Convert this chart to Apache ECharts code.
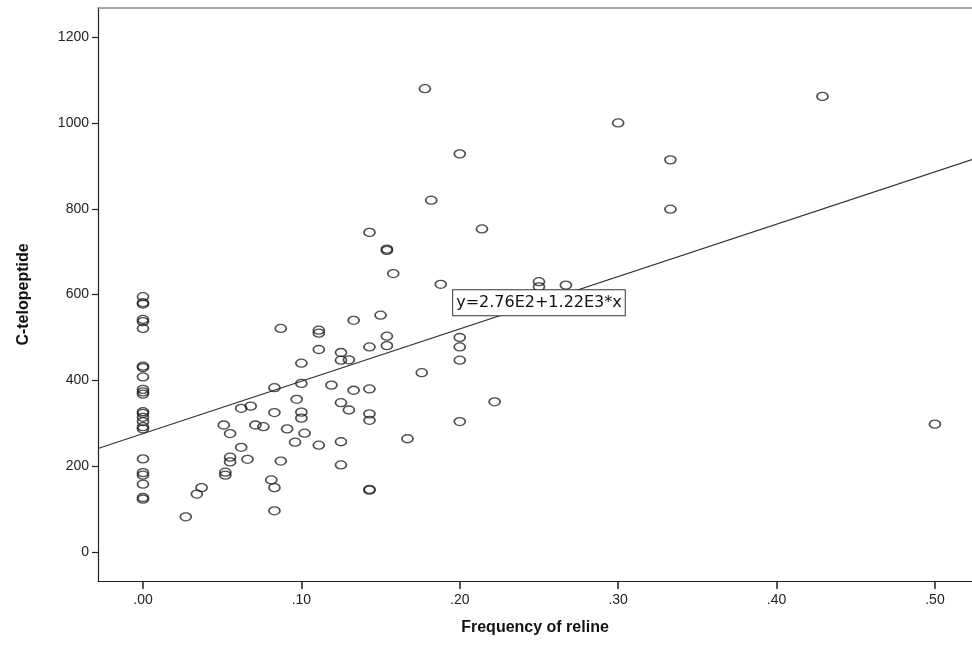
<!DOCTYPE html>
<html>
<head>
<meta charset="utf-8">
<script src="https://cdn.jsdelivr.net/npm/echarts@6/dist/echarts.min.js"></script>
<style>
    html, body { margin: 0; padding: 0; background: #fff; }
    #chart { width: 972px; height: 649px; }
</style>
</head>
<body>
<div id="chart"></div>
<script>
// frequency of reline (x)
var relineFreq = [
    0, 0, 0, 0, 0, 0, 0, 0, 0, 0, 0, 0, 0, 0, 0, 0, 0, 0, 0, 0, 0, 0, 0, 0,
    0.027, 0.034, 0.037, 0.051, 0.055, 0.062, 0.068, 0.062, 0.055, 0.055, 0.066, 0.052, 0.052,
    0.071, 0.076, 0.083, 0.087, 0.083, 0.091, 0.087, 0.081, 0.083, 0.083,
    0.096, 0.097, 0.100, 0.100, 0.100, 0.100, 0.102,
    0.111, 0.111, 0.111, 0.111, 0.119, 0.125, 0.125, 0.130, 0.133, 0.133, 0.125, 0.130, 0.125, 0.125,
    0.143, 0.143, 0.143, 0.143, 0.143, 0.143, 0.143,
    0.150, 0.154, 0.154, 0.154, 0.154, 0.158, 0.167, 0.176, 0.178, 0.182, 0.188,
    0.200, 0.200, 0.200, 0.200, 0.200, 0.214, 0.222,
    0.250, 0.250, 0.267, 0.300, 0.333, 0.333, 0.429, 0.500
];
// C-telopeptide (y)
var cTelopeptide = [
    595, 581, 578, 542, 537, 521, 433, 430, 408, 379, 373, 368, 327, 323, 314, 304, 292, 287, 217, 185, 179, 158, 127, 123,
    82, 135, 150, 296, 276, 335, 340, 244, 221, 210, 216, 186, 179,
    296, 292, 383, 521, 325, 287, 212, 168, 150, 96,
    256, 356, 440, 393, 326, 312, 277,
    517, 510, 472, 249, 389, 465, 447, 448, 540, 377, 348, 331, 257, 203,
    745, 478, 380, 322, 307, 146, 144,
    552, 706, 703, 503, 481, 649, 264, 418, 1080, 820, 624,
    928, 500, 478, 447, 304, 753, 350,
    630, 618, 622, 1000, 914, 799, 1062, 298
];

// fit line y = a + b*x
var fitIntercept = 276;
var fitSlope = 1220;
var fitLabel = 'y=2.76E2+1.22E3*x';

var xTicks = [0, 0.1, 0.2, 0.3, 0.4, 0.5];
var yTicks = [0, 200, 400, 600, 800, 1000, 1200];

var xMin = -0.0284, xMax = 0.5234;
var yMin = -67.6, yMax = 1268;

var points = [];
for (var i = 0; i < relineFreq.length; i++) {
    points.push([relineFreq[i], cTelopeptide[i]]);
}
var fitLine = [
    [xMin, fitIntercept + fitSlope * xMin],
    [xMax, fitIntercept + fitSlope * xMax]
];
var labelX = 0.25;

var ring = 'path://M0,5a5,5 0 1,0 10,0a5,5 0 1,0 -10,0z';
var font = '"Liberation Sans", Arial, sans-serif';

var myChart = echarts.init(document.getElementById('chart'));
var option = {
    backgroundColor: '#fff',
    animation: false,
    grid: { left: 98, right: 0, top: 8, bottom: 68 },
    xAxis: [{
        type: 'value',
        min: xMin,
        max: xMax,
        name: 'Frequency of reline',
        nameLocation: 'middle',
        nameGap: 39,
        nameTextStyle: { fontFamily: font, fontSize: 16, fontWeight: 'bold', color: '#111' },
        splitLine: { show: false },
        axisLine: { onZero: false, lineStyle: { color: '#222', width: 1.2 } },
        axisTick: { length: 8, lineStyle: { color: '#222', width: 1.5 }, customValues: xTicks },
        axisLabel: {
            customValues: xTicks,
            margin: 12,
            fontFamily: font,
            fontSize: 14,
            color: '#222',
            formatter: function (v) {
                return v.toFixed(2).replace(/^0/, '');
            }
        }
    }, {
        type: 'value',
        position: 'top',
        min: xMin,
        max: xMax,
        splitLine: { show: false },
        axisLine: { show: true, onZero: false, lineStyle: { color: '#888', width: 1.5 } },
        axisTick: { show: false },
        axisLabel: { show: false }
    }],
    yAxis: {
        type: 'value',
        min: yMin,
        max: yMax,
        name: 'C-telopeptide',
        nameLocation: 'middle',
        nameRotate: 90,
        nameGap: 66,
        nameTextStyle: { fontFamily: font, fontSize: 16, fontWeight: 'bold', color: '#111' },
        splitLine: { show: false },
        axisLine: { show: true, onZero: false, lineStyle: { color: '#222', width: 1.2 } },
        axisTick: { length: 6, lineStyle: { color: '#222', width: 1.2 }, customValues: yTicks },
        axisLabel: {
            customValues: yTicks,
            margin: 9,
            fontFamily: font,
            fontSize: 14,
            color: '#222',
            formatter: function (v) {
                return String(v);
            }
        }
    },
    series: [{
        type: 'line',
        data: fitLine,
        symbol: 'none',
        lineStyle: { color: '#333', width: 1.2 },
        z: 2,
        markPoint: {
            symbol: 'rect',
            symbolSize: 0,
            data: [{ coord: [labelX, fitIntercept + fitSlope * labelX] }],
            label: {
                show: true,
                position: 'inside',
                formatter: fitLabel,
                fontFamily: '"DejaVu Sans", sans-serif',
                fontSize: 16,
                color: '#111',
                backgroundColor: '#fff',
                borderColor: '#333',
                borderWidth: 1,
                padding: [5, 3, 4, 3]
            }
        }
    }, {
        type: 'scatter',
        data: points,
        symbol: ring,
        symbolSize: [11, 8],
        itemStyle: { color: 'rgba(0,0,0,0)', borderColor: '#222', borderWidth: 1.5 },
        z: 3
    }]
};
myChart.setOption(option);
</script>
</body>
</html>
